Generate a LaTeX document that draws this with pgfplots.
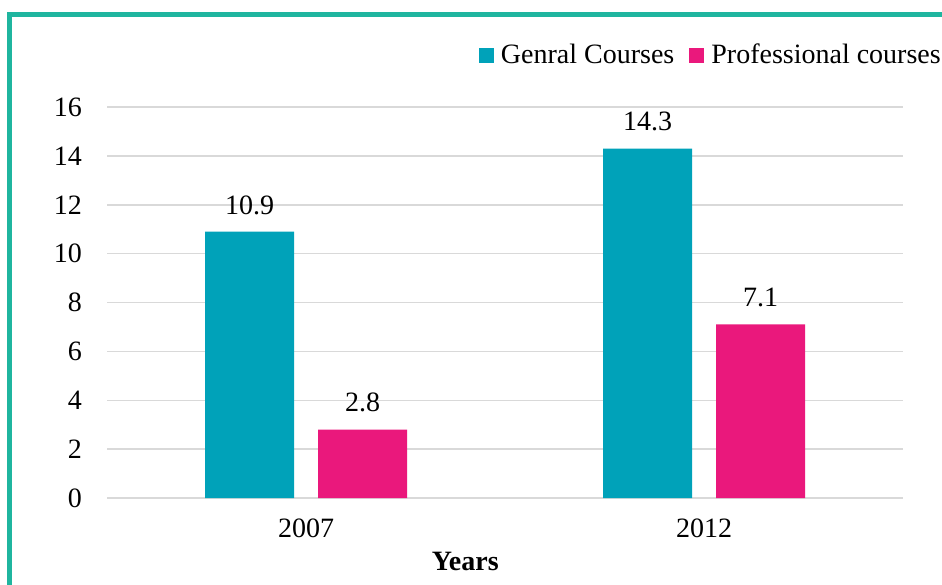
\documentclass[border=0pt]{standalone}
\usepackage{fontspec}
\setmainfont{Liberation Serif}
\usepackage{pgfplots}
\pgfplotsset{compat=1.18}
\definecolor{cgen}{HTML}{00A2B9}
\definecolor{cpro}{HTML}{EA187C}
\definecolor{cframe}{HTML}{1FB59F}
\definecolor{cgrid}{HTML}{D9D9D9}
\newcommand{\bigf}{\fontsize{28}{32}\selectfont}
\begin{document}
\bigf
\begin{tikzpicture}[x=1pt,y=1pt]
\path[use as bounding box] (0,0) rectangle (942,584);
\draw[cframe, line width=4.5pt] (9.5,-5) -- (9.5,569.5) -- (950,569.5);
\begin{axis}[
  at={(107pt,86pt)}, anchor=south west,
  scale only axis, width=796pt, height=391pt,
  xmin=-0.5, xmax=1.5, ymin=0, ymax=16,
  ytick={0,2,...,16}, xtick={0,1}, xticklabels={2007,2012},
  ybar=24pt, bar width=89pt,
  axis line style={draw=none},
  major tick length=0pt,
  ymajorgrids, grid style={cgrid, line width=1.5pt},
  tick label style={font=\bigf},
  /pgf/number format/assume math mode=true,
  yticklabel style={inner sep=0pt, xshift=-25pt},
  xticklabel style={inner sep=0pt, yshift=-21pt},
  nodes near coords,
  nodes near coords style={font=\bigf, inner sep=0pt, anchor=south, yshift=17pt,
    /pgf/number format/.cd, fixed, precision=1, fixed zerofill, assume math mode=true},
  xlabel={\textbf{Years}},
  xlabel style={at={(axis description cs:0.45,0)}, anchor=center, yshift=-63pt, inner sep=0pt, font=\bigf},
  legend columns=2,
  legend style={draw=none, fill=none, inner sep=0pt, outer sep=0pt,
    at={(axis description cs:0.4673,1.10)}, anchor=south west,
    nodes={inner sep=0pt, font=\bigf},
    /tikz/column sep=7pt,
    /tikz/column 2/.style={column sep=15pt}},
  legend image code/.code={\fill[#1] (0pt,-7.5pt) rectangle (15pt,7.5pt);},
]
\addplot[fill=cgen, draw=none] coordinates {(0,10.9) (1,14.3)};
\addplot[fill=cpro, draw=none] coordinates {(0,2.8) (1,7.1)};
\legend{Genral Courses, Professional courses}
\end{axis}
\end{tikzpicture}
\end{document}
